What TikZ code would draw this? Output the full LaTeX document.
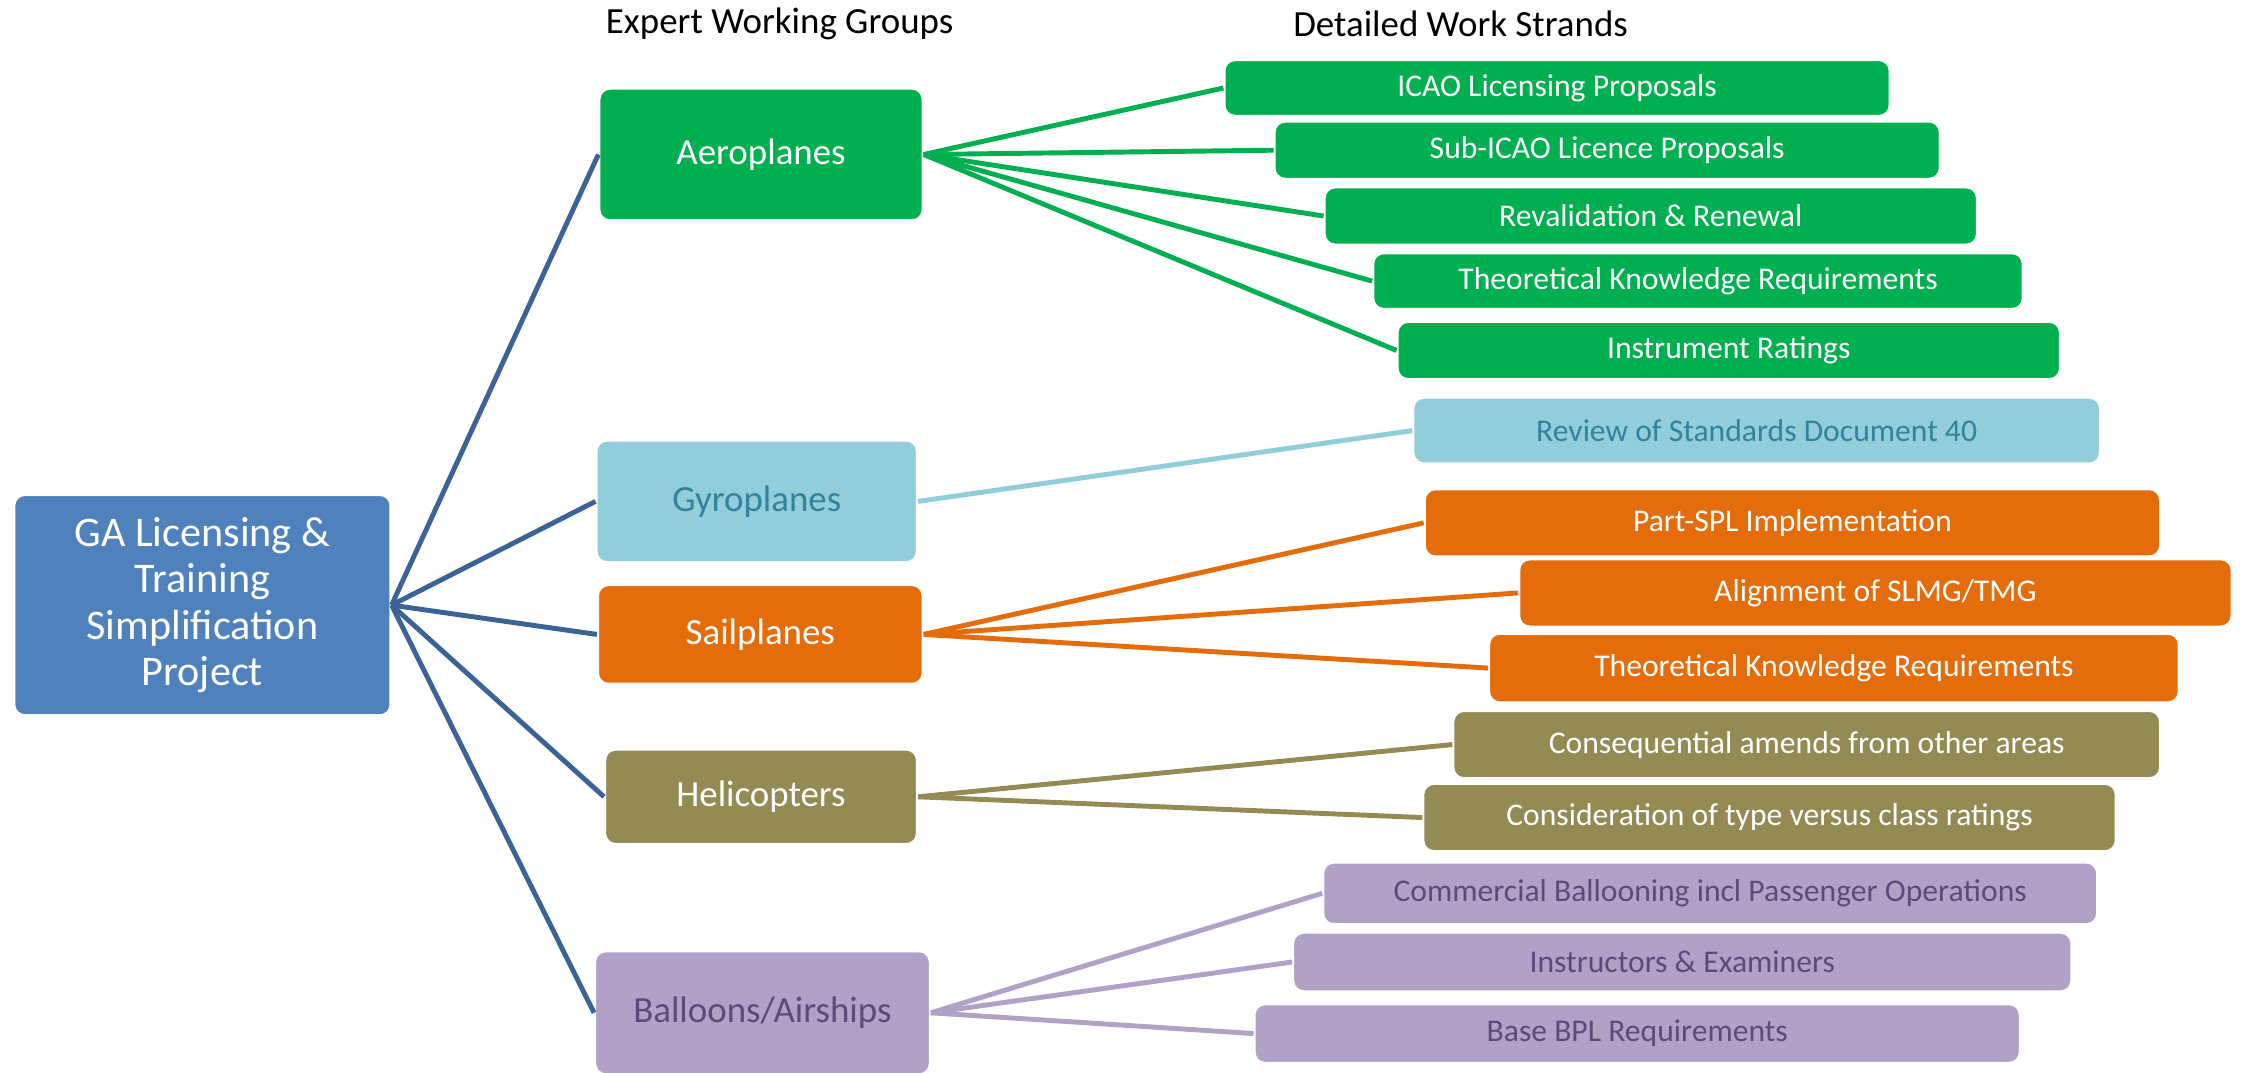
\documentclass[tikz,border=0pt]{standalone}
\usepackage{fontspec}
\setmainfont{Carlito}
\definecolor{rootblue}{HTML}{4F81BD}
\definecolor{rootline}{HTML}{3C6397}
\definecolor{aerogreen}{HTML}{00B050}
\definecolor{gyroblue}{HTML}{92CDDC}
\definecolor{gyrotext}{HTML}{31849B}
\definecolor{sailorange}{HTML}{E46C0A}
\definecolor{heliolive}{HTML}{948A54}
\definecolor{balloonlilac}{HTML}{B2A1C7}
\definecolor{balloontext}{HTML}{5F497A}
\newcommand{\px}{0.14305mm}
\tikzset{
  box/.style={rectangle, rounded corners=3pt, draw=white, line width=0.6pt,
    inner sep=0pt, text=white, align=center},
  boxsize/.style 2 args={minimum width=#1*\px, minimum height=#2*\px},
  group/.style={box, font=\fontsize{10.5}{12.6}\selectfont},
  strand/.style={box, font=\fontsize{9}{10.8}\selectfont},
  link/.style={line width=1.4pt},
}

\begin{document}
\begin{tikzpicture}[x=\px, y=-\px]
	\useasboundingbox (0,0) rectangle (1568,750);
	% column headings
	\node[font=\fontsize{10.5}{12.6}\selectfont] (hgroups) at (545,17) {Expert Working Groups};
	\node[font=\fontsize{10.5}{12.6}\selectfont] (hstrands) at (1021,17) {Detailed Work Strands};
	% project
	\node[box, fill=rootblue, boxsize={263}{154}, font=\fontsize{12}{13.1}\selectfont]
		(project) at (141.5,423) {GA Licensing \&\\Training\\Simplification\\Project};
	% working groups
	\node[group, fill=aerogreen, boxsize={226}{92}] (aero) at (532,108) {Aeroplanes};
	\node[group, fill=gyroblue, text=gyrotext, boxsize={224}{85}] (gyro) at (529,350.5) {Gyroplanes};
	\node[group, fill=sailorange, boxsize={227}{69}] (sail) at (531.5,443.5) {Sailplanes};
	\node[group, fill=heliolive, boxsize={218}{66}] (heli) at (532,557) {Helicopters};
	\node[group, fill=balloonlilac, text=balloontext, boxsize={234}{86}] (balloon) at (533,708) {Balloons/Airships};
	\foreach \g in {aero,gyro,sail,heli,balloon}
		\draw[link, rootline] (project.east) -- (\g.west);
	% aeroplane strands
	\begin{scope}[strand/.append style={fill=aerogreen}]
		\node[strand, boxsize={465}{39}] (icao) at (1088.5,61.5) {ICAO Licensing Proposals};
		\node[strand, boxsize={465}{40}] (subicao) at (1123.5,105) {Sub-ICAO Licence Proposals};
		\node[strand, boxsize={456}{40}] (reval) at (1154,151) {Revalidation \& Renewal};
		\node[strand, boxsize={454}{39}] (tkaero) at (1187,196.5) {Theoretical Knowledge Requirements};
		\node[strand, boxsize={463}{40}] (ir) at (1208.5,245) {Instrument Ratings};
	\end{scope}
	\foreach \s in {icao,subicao,reval,tkaero,ir}
		\draw[link, aerogreen] (aero.east) -- (\s.west);
	% gyroplane strand
	\node[strand, fill=gyroblue, text=gyrotext, boxsize={480}{46}] (standards) at (1228,301) {Review of Standards Document 40};
	\draw[link, gyroblue] (gyro.east) -- (standards.west);
	% sailplane strands
	\begin{scope}[strand/.append style={fill=sailorange}]
		\node[strand, boxsize={514}{47}] (spl) at (1253,365.5) {Part-SPL Implementation};
		\node[strand, boxsize={498}{47}] (slmg) at (1311,414.5) {Alignment of SLMG/TMG};
		\node[strand, boxsize={482}{48}] (tksail) at (1282,467) {Theoretical Knowledge Requirements};
	\end{scope}
	\foreach \s in {spl,slmg,tksail}
		\draw[link, sailorange] (sail.east) -- (\s.west);
	% helicopter strands
	\begin{scope}[strand/.append style={fill=heliolive}]
		\node[strand, boxsize={494}{47}] (amends) at (1263,520.5) {Consequential amends from other areas};
		\node[strand, boxsize={484}{47}] (typeclass) at (1237,571.5) {Consideration of type versus class ratings};
	\end{scope}
	\foreach \s in {amends,typeclass}
		\draw[link, heliolive] (heli.east) -- (\s.west);
	% balloon strands
	\begin{scope}[strand/.append style={fill=balloonlilac, text=balloontext}]
		\node[strand, boxsize={541}{43}] (commercial) at (1195.5,624.5) {Commercial Ballooning incl Passenger Operations};
		\node[strand, boxsize={544}{41}] (instructors) at (1176,672.5) {Instructors \& Examiners};
		\node[strand, boxsize={535}{41}] (bpl) at (1144.5,722.5) {Base BPL Requirements};
	\end{scope}
	\foreach \s in {commercial,instructors,bpl}
		\draw[link, balloonlilac] (balloon.east) -- (\s.west);
\end{tikzpicture}
\end{document}
